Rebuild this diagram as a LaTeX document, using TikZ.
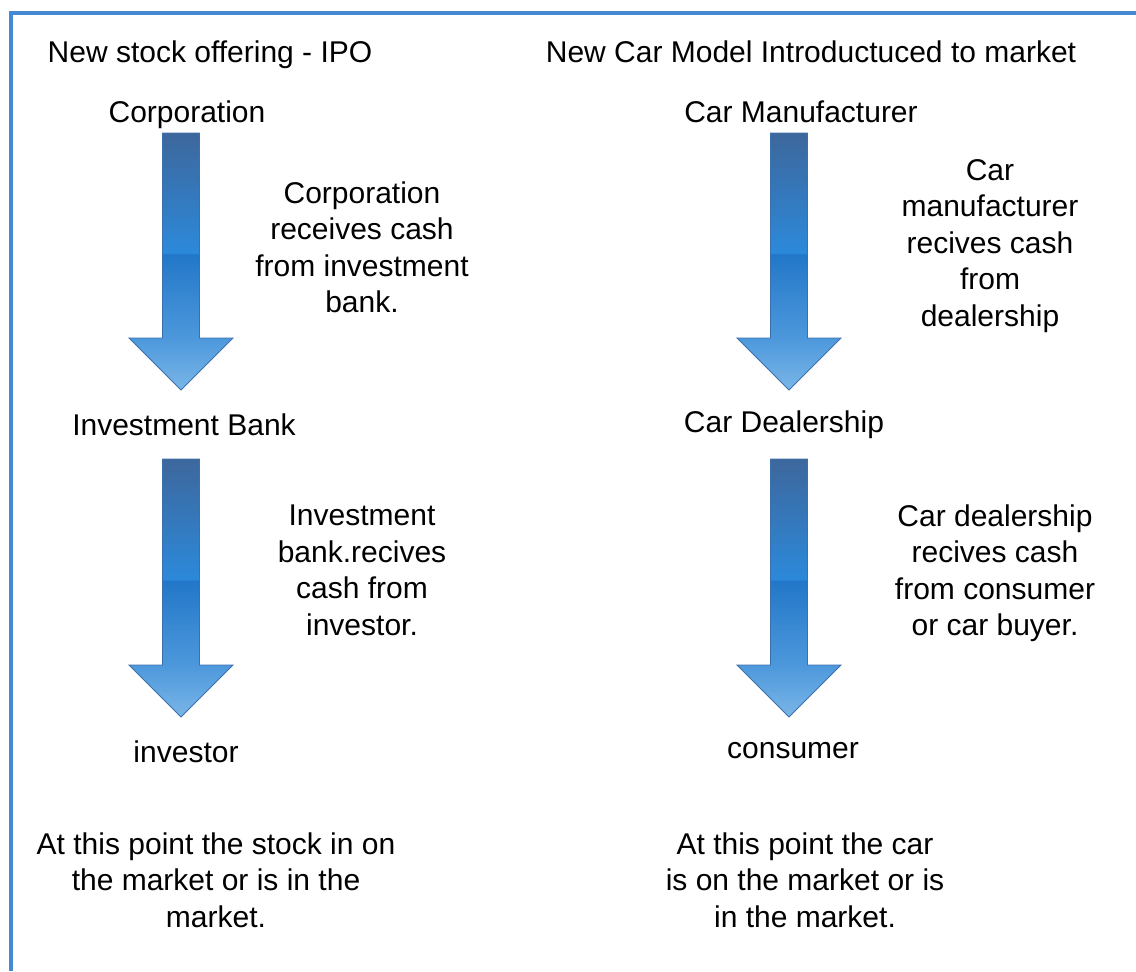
\documentclass[tikz,border=0pt]{standalone}
\usepackage{fontspec}
\setmainfont{Liberation Sans}
\usepackage{xcolor}
\usetikzlibrary{positioning,calc}

\definecolor{frameblue}{HTML}{4689D2}
\definecolor{edgeblue}{HTML}{3C70AC}
\definecolor{topblue}{HTML}{3D679C}
\definecolor{midblue}{HTML}{2C89DA}
\definecolor{lowblue}{HTML}{2277C8}
\definecolor{headblue}{HTML}{4D98DC}
\definecolor{tipblue}{HTML}{7AB6E7}

% glossy fill of the big down arrows (path box runs from 25bp to 75bp)
\pgfdeclareverticalshading{arrowglow}{100bp}{color(0bp)=(tipblue); color(25bp)=(tipblue);
  color(35bp)=(headblue); color(51.4bp)=(lowblue); color(51.7bp)=(midblue);
  color(75bp)=(topblue); color(100bp)=(topblue)}

\tikzset{
  heading/.style={anchor=base, font=\fontsize{15}{18.25}\selectfont},
  party/.style={anchor=base, font=\fontsize{15}{18.25}\selectfont},
  note/.style={align=center, font=\fontsize{15}{18.25}\selectfont},
  flow/.style={shade, shading=arrowglow, draw=edgeblue, line width=0.4pt}
}

% block arrow from #1 (top of shaft) down to #2 (tip)
\newcommand{\cashflow}[2]{%
  \path[flow] ($(#1)+(-18.5,0)$) -- ($(#2)+(-18.5,-52)$) -- ($(#2)+(-52,-52)$) -- (#2)
    -- ($(#2)+(52,-52)$) -- ($(#2)+(18.5,-52)$) -- ($(#1)+(18.5,0)$) -- cycle;}

\begin{document}
\begin{tikzpicture}[x=0.5pt, y=-0.5pt]
  \useasboundingbox (0,0) rectangle (1136,971);
  \draw[frameblue, line width=2pt] (10.5,971) -- (10.5,12.5) -- (1136,12.5);

  % stock offering
  \node[heading] (ipo) at (210,62) {New stock offering - IPO};
  \node[party] (corp) at (187,122) {Corporation};
  \node[party] (bank) at (184,435) {Investment Bank};
  \node[party] (investor) at (186,762) {investor};
  \coordinate (c1) at (181,133);
  \coordinate (c2) at (181,390);
  \coordinate (c3) at (181,459);
  \coordinate (c4) at (181,717);
  \cashflow{c1}{c2}
  \cashflow{c3}{c4}
  \node[note] (corpcash) at (362,247.5) {Corporation\\receives cash\\from investment\\bank.};
  \node[note] (bankcash) at (362,570.5) {Investment\\bank.recives\\cash from\\investor.};
  \node[note] (stockdone) at (216,880) {At this point the stock in on\\the market or is in the\\market.};

  % new car model
  \node[heading] (car) at (811,62) {New Car Model Introductuced to market};
  \node[party] (maker) at (801,122) {Car Manufacturer};
  \node[party] (dealer) at (784,432) {Car Dealership};
  \node[party] (consumer) at (793,758) {consumer};
  \coordinate (m1) at (789,133);
  \coordinate (m2) at (789,390);
  \coordinate (m3) at (789,459);
  \coordinate (m4) at (789,717);
  \cashflow{m1}{m2}
  \cashflow{m3}{m4}
  \node[note] (makercash) at (990,246) {Car\\manufacturer\\recives cash\\from\\dealership};
  \node[note] (dealercash) at (995,573) {Car dealership\\recives cash\\from consumer\\or car buyer.};
  \node[note] (cardone) at (805,880) {At this point the car\\is on the market or is\\in the market.};
\end{tikzpicture}
\end{document}
